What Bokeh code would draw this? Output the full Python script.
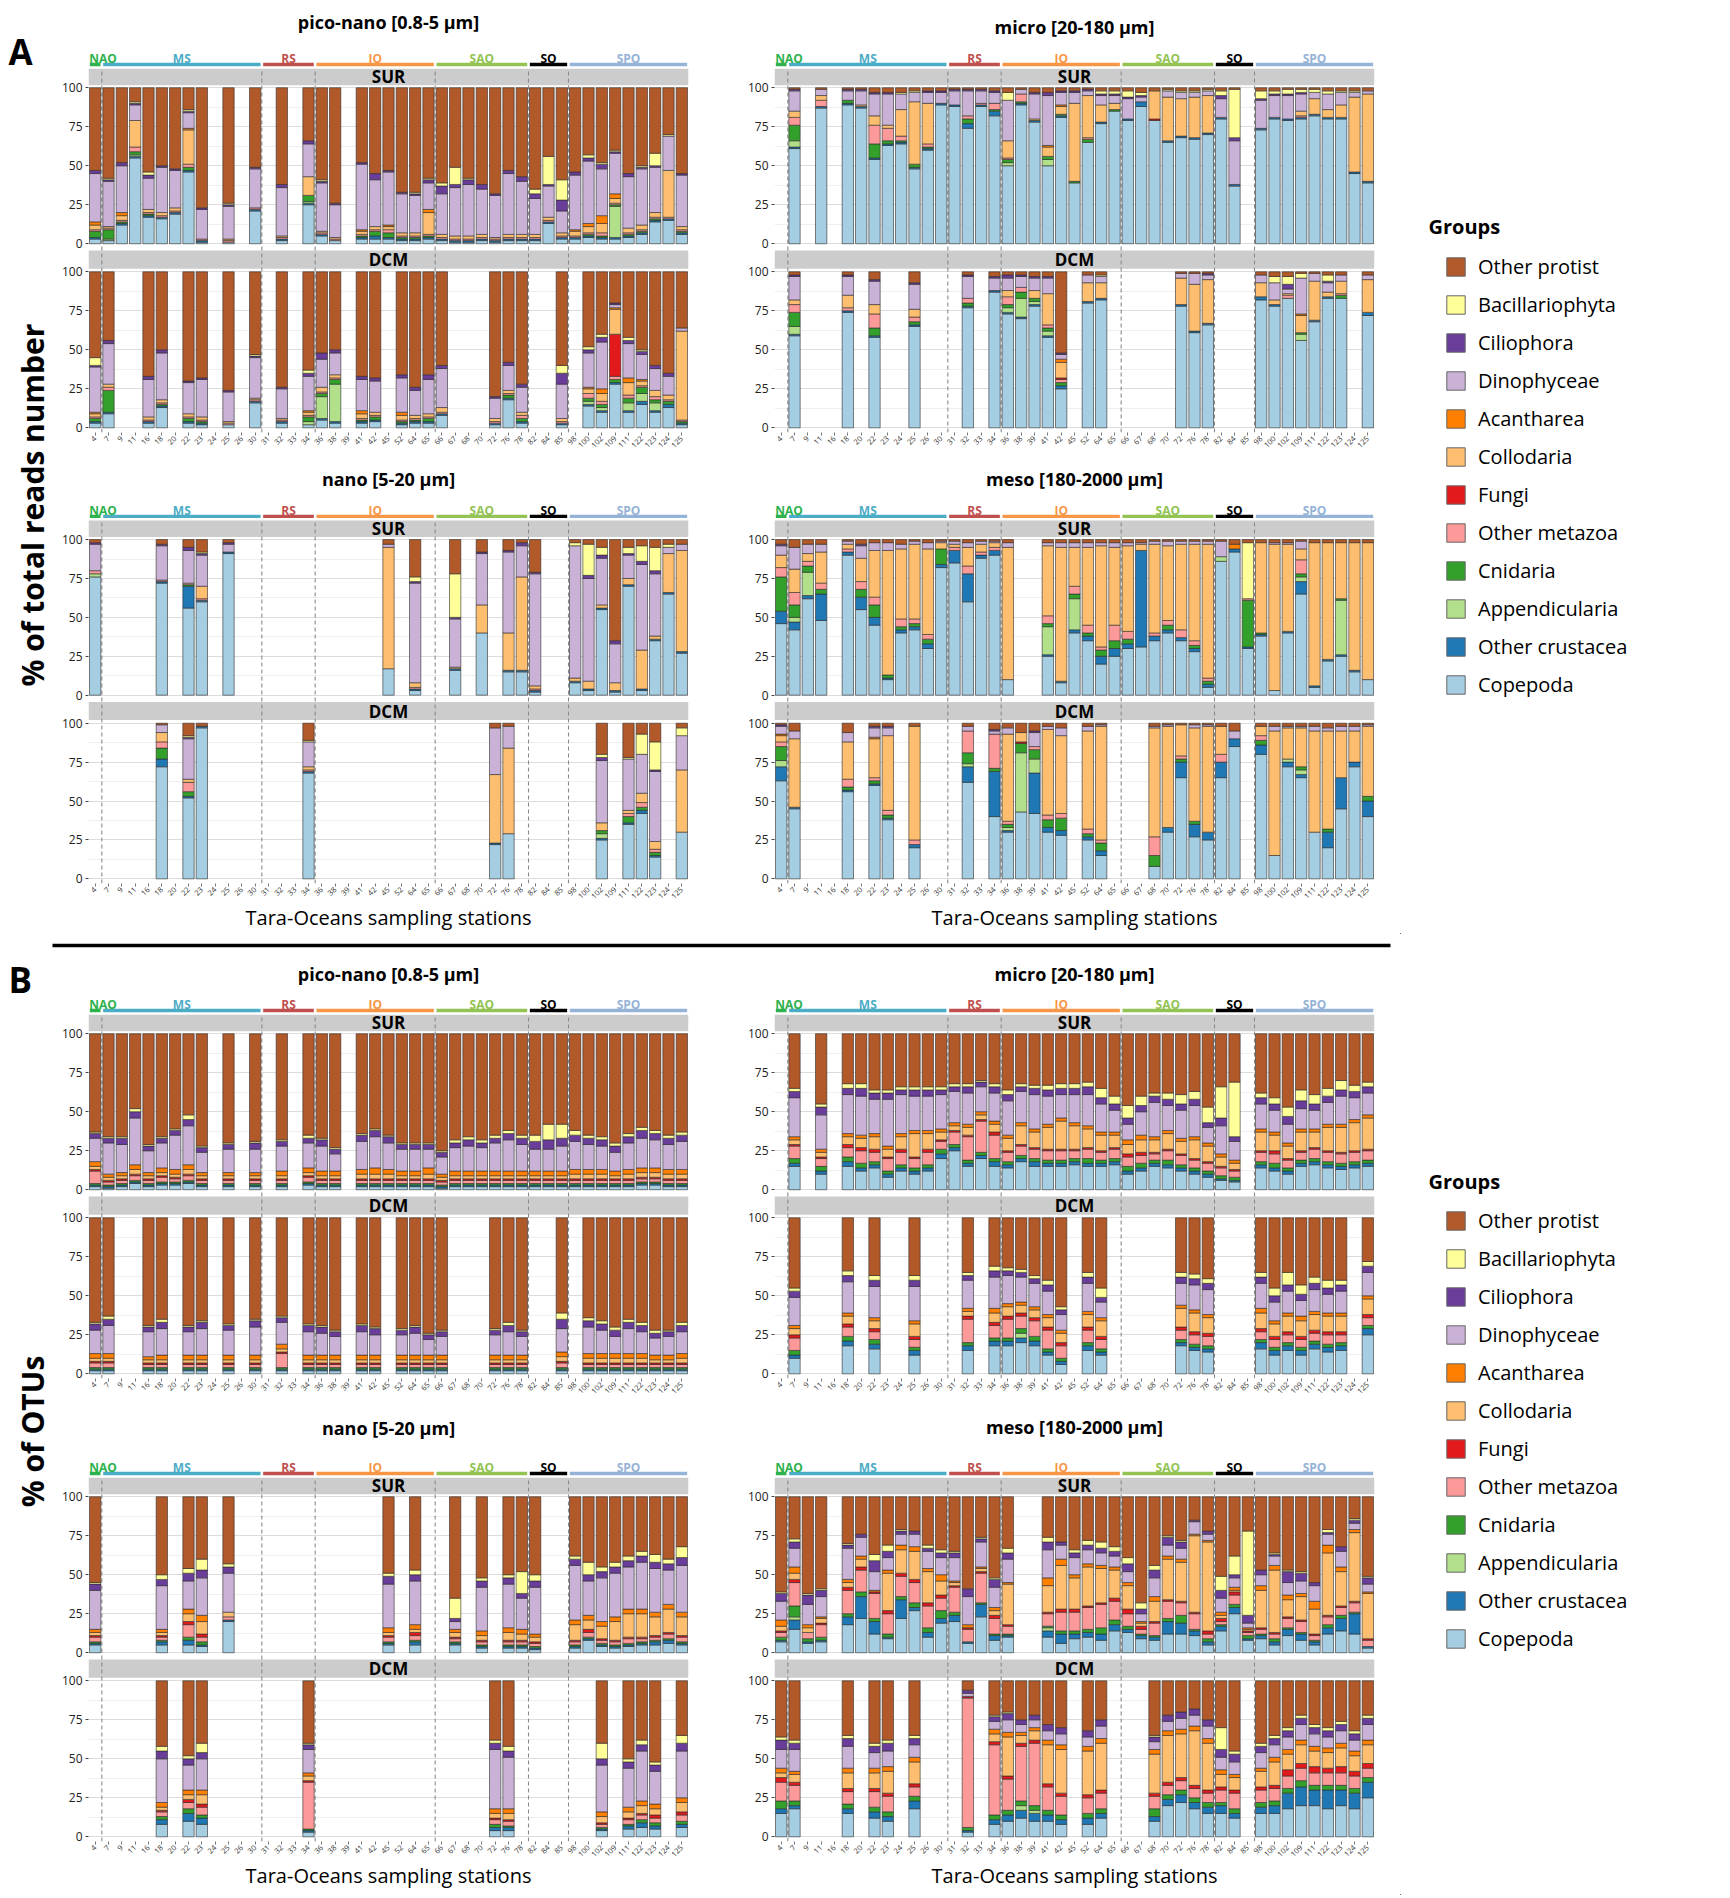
import math
from bokeh.plotting import figure
from bokeh.models import Range1d, FixedTicker, Legend, LegendItem
from bokeh.layouts import row, column
from bokeh.embed import file_html
from bokeh.resources import INLINE
from bokeh.core.properties import value

FONT = "Open Sans"

stations = ["4", "7", "9", "11", "16", "18", "20", "22", "23", "24", "25", "26", "30", "31", "32",
            "33", "34", "36", "38", "39", "41", "42", "45", "52", "64", "65", "66", "67", "68", "70",
            "72", "76", "78", "82", "84", "85", "98", "100", "102", "109", "111", "122", "123", "124", "125"]

region_names = ["NAO", "MS", "RS", "IO", "SAO", "SO", "SPO"]
region_first = ["4", "7", "31", "36", "66", "82", "98"]
region_last = ["4", "30", "34", "65", "78", "85", "125"]
region_colors = ["#2eb24e", "#4bacc6", "#c0504d", "#f79646", "#92c353", "#000000", "#95b3d7"]

# legend order (top -> bottom); stacks are drawn in the reverse order (Copepoda at the bottom)
group_names = ["Other protist", "Bacillariophyta", "Ciliophora", "Dinophyceae", "Acantharea", "Collodaria",
               "Fungi", "Other metazoa", "Cnidaria", "Appendicularia", "Other crustacea", "Copepoda"]
group_codes = ["P", "B", "I", "D", "H", "L", "F", "M", "N", "A", "X", "C"]
group_colors = ["#b15928", "#ffff99", "#6a3d9a", "#cab2d6", "#ff7f00", "#fdbf6f",
                "#e31a1c", "#fb9a99", "#33a02c", "#b2df8a", "#1f78b4", "#a6cee3"]

# ---------------- A: % of total reads number ----------------
reads_piconano_sur = {
    "4": "C3 X1 N4 M1 L3 H2 D31 I2", "7": "C2 A1 N6 M1 L1 D29 I1 B1", "9": "C12 X1 N1 M1 L3 H2 D30 I2",
    "11": "C55 X1 A1 N2 M3 L17 D10 I1 B1", "16": "C17 X1 N1 M1 L2 D20 I2 B2", "18": "C16 X1 M1 L2 D29 I1",
    "20": "C19 X1 M1 L2 D24 I1", "22": "C46 X1 N2 M2 L22 H1 D10 I1 B1", "23": "C1 X1 M1 D19 I1",
    "25": "C1 M1 L1 D21 I1 B1", "30": "C21 X1 M1 D25 I1", "32": "C2 X1 M1 L1 D31 I2",
    "34": "C25 X1 A1 N4 L12 D21 I2", "36": "C5 X1 M1 L1 D31 I1 B1", "38": "C2 M1 L1 D21 I1",
    "41": "C3 X1 N1 M1 L2 H1 D42 I1", "42": "C3 X2 N3 M1 L2 D30 I4", "45": "C3 X1 N3 M2 L2 H1 D34 I1",
    "52": "C2 X1 N1 M1 L2 D25 I1", "64": "C2 X1 N1 M1 L2 D24 I1 B1", "65": "C3 X1 N1 M1 L14 H2 D17 I2 B1",
    "66": "C2 X1 M1 L2 D26 I5 B2", "67": "C1 X1 M1 L2 D31 I2 B11", "68": "C1 X1 M1 L2 D33 I3 B1",
    "70": "C2 X1 M1 L2 D29 I3", "72": "C1 X1 M1 L1 D27 I1", "76": "C2 X1 M1 L2 D39 I2",
    "78": "C2 X1 M1 L2 D34 I3", "82": "C2 X1 M1 L2 D23 I3 B3", "84": "C13 X1 M1 L2 D20 I1 B18",
    "85": "C3 X1 M1 L2 D14 I7 B13", "98": "C3 X1 M1 L3 H1 D35 I2", "100": "C4 X1 N1 M1 L4 H2 D40 I2 B2",
    "102": "C3 X1 N1 M2 L6 H5 D30 I3 B1", "109": "C3 X1 A20 N1 M1 L3 H3 D26 I1 B1",
    "111": "C4 X1 N1 M1 L3 D33 I2", "122": "C6 X1 N1 M1 L3 D36 I1 B1", "123": "C14 X1 N1 M1 L3 D29 I1 B8",
    "124": "C15 X1 M1 L30 D22 B1", "125": "C6 X1 N1 M1 L2 D33 I1",
}
reads_piconano_dcm = {
    "4": "C3 X1 N2 M1 L2 H1 D29 I1 B5", "7": "C9 X1 N14 M2 L2 D26 I2", "16": "C3 X1 M1 L2 D24 I2",
    "18": "C13 X1 N1 M1 L2 D30 I2", "22": "C3 X1 N2 M1 L2 D20 I1", "23": "C2 X1 N1 M1 L2 D24 I1",
    "25": "C2 M1 L1 D19 I1", "30": "C16 X1 M1 L1 D26 I1 B1", "32": "C3 X1 M1 L1 D19 I1",
    "34": "C2 A2 N3 M1 L2 H1 D22 I2 B2", "36": "C5 X1 A14 N2 M1 L3 D18 I4", "38": "C3 X1 A24 N3 M1 L2 D14 I2",
    "41": "C3 X1 N1 M1 L3 H2 D20 I2", "42": "C4 X1 N2 M1 L2 D20 I2", "52": "C2 X1 N1 M1 L3 H2 D22 I2",
    "64": "C3 X1 N1 M1 L2 D16 I2", "65": "C3 X1 N2 M1 L2 D22 I3", "66": "C8 X1 M1 L3 D25 I2",
    "72": "C2 X1 M1 L2 D13 I1", "76": "C18 X1 N2 M1 L2 D16 I2", "78": "C3 X1 N2 M2 L2 D16 I2",
    "85": "C2 X1 M1 L2 D22 I7 B5", "100": "C14 X1 A2 N2 M3 L3 H1 D22 I2 B2",
    "102": "C10 X1 A2 N2 M2 L5 H3 D30 I3 B2", "109": "C28 X1 N2 M2 F27 L16 H1 D2 I1",
    "111": "C10 X1 A5 N3 M2 L8 H3 D22 I2 B2", "122": "C15 X2 A5 N4 M1 L3 H1 D16 I2 B1",
    "123": "C10 X1 A5 N2 M2 L4 D14 I2", "124": "C13 X2 N2 M1 L3 D12 I2", "125": "C2 X1 N1 M1 L57 D2",
}
reads_micro_sur = {
    "7": "C61 X1 A4 N10 M5 L4 D13 I1", "11": "C87 X1 M4 L3 D4", "18": "C89 X1 N2 D6 I1",
    "20": "C87 X1 L1 D9 I1", "22": "C54 X1 N9 M12 L6 D14 I1", "23": "C63 X1 N2 M8 L2 D20 I1",
    "24": "C64 X1 N1 M3 L17 D10 B1", "25": "C48 X1 N2 L40 D6 B1", "26": "C60 X1 N1 M2 L26 D7 I1",
    "30": "C89 X1 D7 I1", "31": "C88 X1 D9 I1", "32": "C74 X3 N3 M2 D16 I1", "33": "C88 X1 M1 D8 I1",
    "34": "C82 X3 N1 M4 D7 I1", "36": "C50 A2 N2 M1 L11 D26 B5", "38": "C89 X1 N1 M5 D3",
    "39": "C78 X1 L1 D16 I1", "41": "C50 A4 N2 L6 H1 D32 I2", "42": "C81 X1 N1 L5 H1 D8 I1",
    "45": "C39 N1 L50 D7 I1", "52": "C65 N2 M1 L27 D3 I1", "64": "C77 X1 L11 D6 I1 B2",
    "65": "C85 N1 L4 D5 I1 B2", "66": "C79 X1 D13 I1 B4", "67": "C88 X3 D3 I1 B2", "68": "C79 F1 L18",
    "70": "C65 X1 L28 D4 B1", "72": "C68 X1 L24 D4 B1", "76": "C67 X1 L26 D3 B1", "78": "C70 X1 L24 D3 B1",
    "82": "C80 X1 D12 I2 B3", "84": "C37 X1 D28 I2 B31", "98": "C73 X1 D18 I1 B5", "100": "C80 X1 D14 I1 B2",
    "102": "C79 X1 D15 I1 B3", "109": "C80 X1 M1 L3 D11 I1 B2", "111": "C82 X1 L10 D4 B2",
    "122": "C80 X1 L5 D10 B2", "123": "C80 X1 L8 D8 B1", "124": "C45 X1 L48 D3 B1", "125": "C39 X1 L56 D2",
}
reads_micro_dcm = {
    "7": "C59 X1 A5 N9 M5 L3 D15 I1", "18": "C74 X1 M2 L8 D12 I1", "22": "C58 X1 N5 M9 L6 D15 I1",
    "25": "C65 X1 N2 M3 L5 D16 I1", "32": "C77 X1 N2 M3 D14 I1", "34": "C87 X1 D8 I1",
    "36": "C73 X1 A3 N2 M5 L4 D8 I2", "38": "C70 X1 A12 N4 M3 D7 I1", "39": "C78 X1 A2 N2 L5 D8 I1",
    "41": "C58 X1 A3 N2 M2 L20 D10 I1", "42": "C25 X2 N2 M2 F1 L10 H2 D3 I1", "52": "C80 X1 L12 D5",
    "64": "C82 X1 L10 D4 B1", "72": "C78 X1 L17 D3", "76": "C61 X1 L30 D7", "78": "C66 X1 L28 D3 I1",
    "98": "C82 X2 L9 D5", "100": "C78 X1 L3 D11 B4", "102": "C83 M2 L1 D3 I3 B5",
    "109": "C56 A4 N1 L11 H1 D23 B3", "111": "C68 X1 L25 D5", "122": "C83 X1 L3 D6 I1 B4",
    "123": "C83 N2 M1 L8 D4", "125": "C72 X2 L21 D3",
}
reads_nano_sur = {
    "4": "C76 A2 M2 D17 I1", "18": "C72 X1 M1 D22 I1", "22": "C56 X14 N1 M1 D21 I2",
    "23": "C60 X1 M1 L8 D20 I1 B1", "25": "C91 X1 D5 I1", "45": "C17 L78 D2", "64": "C3 X1 M1 L3 D64 I1 B3",
    "67": "C16 X1 L1 D31 I1 B28", "70": "C40 L18 D33 I1", "76": "C15 X1 L24 D52 I1", "78": "C15 X1 L60 D20 I2",
    "82": "C2 X1 M1 L2 D72 I1", "98": "C8 X1 L2 D85 B2", "100": "C3 X1 L5 D66 I2 B20",
    "102": "C55 X1 L2 D30 I2 B5", "109": "C2 X1 L5 D25 I2", "111": "C70 X1 L4 D15 I1 B4",
    "122": "C3 X1 L25 D55 I2 B10", "123": "C35 X1 L2 D40 I2 B15", "124": "C65 X1 L25 D4 B2",
    "125": "C27 X1 L65 D4",
}
reads_nano_dcm = {
    "18": "C72 X5 N7 M4 L6 D5", "22": "C52 X1 N3 M6 L2 D26 I1 B1", "23": "C97 X1",
    "34": "C68 X1 M1 L2 D16 B1", "72": "C22 X1 L44 D30", "76": "C29 L55 D14",
    "102": "C25 X1 A3 N2 L5 D40 I2 B2", "111": "C35 X1 N4 M2 L2 D33 B1", "122": "C42 X2 N2 M3 L6 D25 B13",
    "123": "C14 X1 N2 M2 L5 D45 I1 B18", "125": "C30 L40 D22 B5",
}
reads_meso_sur = {
    "4": "C46 X8 N22 M6 L8 D6 I1", "7": "C42 X5 A3 N8 M8 L15 D14", "9": "C62 X2 A15 N4 M3 L5 D6",
    "11": "C48 X17 N3 M4 L20 D5", "18": "C90 X2 M2 L3 D2", "20": "C55 X8 N5 M5 L15 D8 I1",
    "22": "C45 X5 N8 M5 L30 D5", "23": "C10 X1 N2 L80 D5", "24": "C40 X2 N2 M5 L45 D3",
    "25": "C42 X2 N2 M3 L48 D2", "26": "C30 X3 N3 M3 L55 D4", "30": "C82 X2 N10 L4 D1",
    "31": "C85 X8 M2 L2 D2", "32": "C60 X18 M5 L12 D3", "33": "C88 X2 M2 L5 D2", "34": "C90 X3 M2 L3 D1",
    "36": "C10 L85 D3", "41": "C25 X1 A18 N2 M5 L45 D2", "42": "C8 X1 L86 D3", "45": "C40 X2 A20 N3 M5 L25 D3",
    "52": "C35 X3 N2 M5 L50 D3", "64": "C20 X5 N4 M2 L65 D2", "65": "C25 X5 N5 M10 L50 D3",
    "66": "C30 X3 N3 M5 L55 D2", "67": "C31 X62 L4 D1", "68": "C35 X3 M2 L57 D2", "70": "C40 X2 N3 M3 L48 D3",
    "72": "C35 X2 M5 L55 D2", "76": "C28 X2 N2 M3 L62 D2", "78": "C5 X2 N2 M2 L86 D2", "82": "C86 A3 D10",
    "84": "C92 X2 H3", "85": "C30 X1 N30 M1 B36", "98": "C38 X1 N1 L58", "100": "C3 L94 D1",
    "102": "C40 X1 L56 D1", "109": "C65 X8 A3 N2 M9 L7 D5", "111": "C5 X1 L92", "122": "C22 X1 L75",
    "123": "C25 X1 A35 N1 L36", "124": "C15 X1 L82", "125": "C10 L88",
}
reads_meso_dcm = {
    "4": "C63 X9 A4 N9 M3 L4 H1 D5 I1", "7": "C45 X1 L44 D5", "18": "C56 X1 N2 M5 L24 D6",
    "22": "C60 X1 N2 M2 L25 H1 D6 I1", "23": "C38 X1 N2 M3 L48 D5 I1", "25": "C20 X2 M3 L73",
    "32": "C62 X10 A2 N7 M14 D3", "34": "C40 X29 N2 M22 D2 I1", "36": "C30 X1 A2 N2 M2 L56 D4",
    "38": "C43 A38 N6 F1 L6", "39": "C42 X26 A9 N6 M2 D9 I1", "41": "C30 X3 N5 M3 L55 D2",
    "42": "C28 X3 N8 M3 L50 D5", "52": "C25 X2 N2 M3 L63 D3", "64": "C15 X3 N5 M2 L73 D1",
    "68": "C8 N7 M12 L70 D1", "70": "C30 X3 L65 D1", "72": "C65 X10 N2 M2 L20", "76": "C27 X8 N2 L60 D2",
    "78": "C25 X5 L68 D1", "82": "C65 X10 M5 L18", "84": "C85 X5 D5", "98": "C80 X6 N3 M3 L6",
    "100": "C15 L80 D3", "102": "C72 X3 A2 L20 D1", "109": "C65 X2 A3 N2 L25 D1", "111": "C30 L65 D3",
    "122": "C20 X10 N2 L63 D2", "123": "C45 X20 L30 D3", "124": "C72 X3 L20 D3", "125": "C40 X10 N3 L45 D1",
}

# ---------------- B: % of OTUs ----------------
otus_piconano_sur = {
    "4": "C2 X1 N1 M8 F1 L2 H3 D15 I3 B1", "7": "C1 X1 N1 M2 F1 L2 H2 D20 I3 B1",
    "9": "C2 X1 N1 M2 F1 L2 H2 D18 I4 B1", "11": "C4 X1 N1 M3 F1 L3 H3 D30 I4 B2",
    "16": "C2 X1 N1 M2 F1 L2 H2 D14 I3 B1", "18": "C3 X1 N1 M3 F1 L2 H3 D16 I3 B1",
    "20": "C3 X1 N1 M2 F1 L2 H3 D22 I3 B1", "22": "C4 X1 N1 M3 F1 L3 H3 D25 I4 B3",
    "23": "C2 X1 N1 M2 F1 L2 H2 D13 I3 B1", "25": "C2 X1 N1 M2 F1 L2 H2 D15 I3 B1",
    "30": "C2 X1 N1 M2 F1 L2 H2 D15 I4 B1", "32": "C2 X1 N1 M2 F1 L2 H3 D16 I3 B1",
    "34": "C3 X1 N1 M3 F1 L2 H3 D16 I3 B2", "36": "C2 X1 N1 M2 F1 L2 H3 D16 I4 B1",
    "38": "C2 X1 N1 M2 F1 L2 H3 D11 I3 B1", "41": "C2 X1 N1 M2 F1 L3 H3 D18 I4 B1",
    "42": "C2 X1 N1 M2 F1 L3 H4 D20 I4 B1", "45": "C2 X1 N1 M2 F1 L3 H3 D17 I4 B1",
    "52": "C2 X1 N1 M2 F1 L2 H3 D14 I3 B1", "64": "C2 X1 N1 M2 F1 L2 H3 D14 I3 B1",
    "65": "C2 X1 N1 M2 F1 L3 H4 D12 I3 B1", "66": "C1 X1 N1 M2 F1 L2 H2 D11 I3 B1",
    "67": "C2 X1 N1 M2 F1 L2 H3 D15 I3 B2", "68": "C2 X1 N1 M2 F1 L2 H3 D16 I4 B2",
    "70": "C2 X1 N1 M2 F1 L2 H3 D15 I3 B2", "72": "C2 X1 N1 M2 F1 L2 H3 D18 I3 B2",
    "76": "C2 X1 N1 M2 F1 L2 H3 D20 I4 B2", "78": "C2 X1 N1 M2 F1 L2 H3 D17 I4 B2",
    "82": "C2 X1 N1 M2 F1 L2 H3 D14 I5 B4", "84": "C2 X1 N1 M2 F1 L2 H3 D14 I6 B10",
    "85": "C2 X1 N1 M2 F1 L2 H3 D16 I5 B9", "98": "C2 X1 N1 M2 F1 L3 H3 D18 I4 B3",
    "100": "C2 X1 N1 M2 F1 L3 H3 D16 I4 B2", "102": "C2 X1 N1 M2 F1 L3 H3 D15 I4 B2",
    "109": "C2 X1 N1 M2 F1 L2 H3 D12 I4 B2", "111": "C2 X1 N1 M2 F1 L3 H3 D17 I4 B2",
    "122": "C3 X1 N1 M2 F1 L3 H3 D19 I5 B2", "123": "C3 X1 N1 M2 F1 L3 H3 D18 I4 B2",
    "124": "C2 X1 N1 M2 F1 L3 H3 D16 I4 B2", "125": "C2 X1 N1 M2 F1 L3 H3 D18 I4 B2",
}
otus_piconano_dcm = {
    "4": "C2 X1 N1 M3 F1 L2 H3 D15 I4 B1", "7": "C2 X1 N1 M3 F1 L2 H3 D18 I4 B2",
    "16": "C2 X1 N1 M2 F1 L2 H2 D16 I3 B1", "18": "C2 X1 N1 M2 F1 L2 H3 D17 I4 B2",
    "22": "C2 X1 N1 M2 F1 L2 H3 D15 I3 B1", "23": "C2 X1 N1 M2 F1 L2 H3 D17 I4 B1",
    "25": "C2 X1 N1 M2 F1 L2 H3 D16 I3 B1", "30": "C2 X1 N1 M2 F1 L2 H3 D18 I4 B1",
    "32": "C2 X1 N1 M9 F1 L2 H3 D14 I3 B1", "34": "C2 X1 N1 M2 F1 L2 H3 D15 I4 B1",
    "36": "C2 X1 N1 M2 F1 L2 H3 D14 I4 B1", "38": "C2 X1 N1 M2 F1 L2 H3 D12 I3 B1",
    "41": "C2 X1 N1 M2 F1 L2 H3 D15 I4 B1", "42": "C2 X1 N1 M2 F1 L2 H3 D13 I4 B1",
    "52": "C2 X1 N1 M2 F1 L2 H3 D13 I3 B1", "64": "C2 X1 N1 M2 F1 L2 H3 D14 I4 B1",
    "65": "C2 X1 N1 M2 F1 L2 H3 D10 I3 B1", "66": "C2 X1 N1 M2 F1 L2 H3 D12 I3 B1",
    "72": "C2 X1 N1 M2 F1 L2 H3 D13 I3 B1", "76": "C2 X1 N1 M2 F1 L2 H3 D15 I4 B2",
    "78": "C2 X1 N1 M2 F1 L2 H3 D12 I3 B1", "85": "C2 X1 N1 M3 F1 L3 H3 D15 I6 B4",
    "100": "C2 X1 N1 M2 F1 L3 H3 D17 I4 B2", "102": "C2 X1 N1 M2 F1 L3 H3 D15 I4 B2",
    "109": "C2 X1 N1 M2 F1 L3 H3 D11 I4 B2", "111": "C2 X1 N1 M2 F1 L3 H3 D16 I4 B2",
    "122": "C2 X1 N1 M2 F1 L3 H3 D14 I4 B2", "123": "C2 X1 N1 M2 F1 L2 H3 D11 I3 B2",
    "124": "C2 X1 N1 M2 F1 L2 H3 D12 I3 B1", "125": "C2 X1 N1 M2 F1 L3 H3 D14 I4 B2",
}
otus_micro_sur = {
    "7": "C15 X2 N3 M8 F1 L3 H2 D25 I4 B2", "11": "C10 X2 N3 M5 F1 L3 H2 D22 I5 B2",
    "18": "C15 X3 N3 M6 F2 L5 H2 D25 I4 B3", "20": "C12 X2 N3 M8 F2 L6 H2 D25 I5 B3",
    "22": "C14 X2 N2 M6 F2 L8 H2 D22 I4 B2", "23": "C8 X2 N2 M8 F1 L5 H2 D30 I4 B2",
    "24": "C12 X2 N2 M8 F2 L8 H2 D25 I3 B2", "25": "C10 X2 N2 M6 F1 L15 H2 D22 I4 B2",
    "26": "C12 X2 N2 M8 F2 L10 H2 D22 I4 B2", "30": "C20 X3 N3 M5 F1 L5 H2 D22 I3 B2",
    "31": "C25 X2 N2 M8 F1 L3 H2 D20 I3 B2", "32": "C15 X2 N2 M15 F1 L5 H2 D20 I4 B2",
    "33": "C20 X2 N2 M20 F1 L3 H2 D16 I3 B1", "34": "C15 X3 N2 M15 F2 L5 H2 D18 I4 B2",
    "36": "C14 X2 N2 M6 F1 L8 H2 D22 I4 B3", "38": "C18 X2 N2 M6 F1 L12 H2 D20 I3 B2",
    "39": "C15 X3 N2 M6 F1 L10 H2 D22 I4 B2", "41": "C15 X2 N2 M6 F1 L14 H2 D18 I4 B3",
    "42": "C15 X2 N2 M6 F1 L18 H2 D15 I4 B3", "45": "C16 X2 N2 M5 F1 L15 H2 D18 I4 B3",
    "52": "C15 X2 N3 M6 F1 L12 H2 D20 I5 B3", "64": "C15 X2 N2 M5 F1 L10 H2 D18 I4 B6",
    "65": "C16 X2 N2 M6 F1 L8 H2 D14 I4 B5", "66": "C10 X2 N3 M6 F2 L6 H3 D10 I4 B8",
    "67": "C12 X2 N3 M5 F2 L8 H3 D15 I4 B6", "68": "C15 X2 N2 M4 F1 L8 H2 D22 I4 B2",
    "70": "C14 X2 N3 M6 F1 L10 H2 D16 I4 B4", "72": "C12 X2 N2 M6 F1 L8 H2 D18 I4 B6",
    "76": "C10 X2 N2 M5 F1 L12 H2 D20 I4 B5", "78": "C8 X2 N2 M5 F1 L10 H2 D10 I3 B10",
    "82": "C6 X1 N2 M5 F1 L6 H2 D18 I5 B20", "84": "C5 X1 N2 M4 F1 L4 H2 D12 I3 B35",
    "98": "C14 X2 N2 M6 F1 L12 H2 D16 I4 B3", "100": "C12 X2 N3 M6 F2 L10 H2 D14 I4 B4",
    "102": "C10 X2 N2 M5 F1 L8 H2 D12 I5 B6", "109": "C15 X2 N2 M5 F1 L12 H2 D13 I5 B7",
    "111": "C16 X2 N2 M6 F1 L10 H2 D12 I4 B6", "122": "C14 X2 N2 M6 F1 L15 H2 D14 I4 B5",
    "123": "C13 X2 N2 M6 F1 L16 H2 D18 I4 B6", "124": "C14 X2 N2 M6 F1 L18 H2 D14 I4 B4",
    "125": "C15 X2 N2 M6 F1 L20 H2 D14 I4 B3",
}
otus_micro_dcm = {
    "7": "C10 X2 N3 M8 F2 L4 H2 D18 I4 B2", "18": "C18 X3 N3 M6 F2 L5 H2 D20 I4 B3",
    "22": "C16 X3 N3 M5 F2 L5 H2 D20 I4 B3", "25": "C12 X3 N2 M5 F2 L8 H2 D22 I4 B3",
    "32": "C15 X3 N2 M15 F2 L3 H2 D18 I3 B2", "34": "C18 X3 N2 M8 F2 L6 H3 D20 I4 B3",
    "36": "C18 X3 N2 M12 F2 L6 H2 D18 I3 B2", "38": "C20 X3 A3 N3 M8 F2 L5 H2 D16 I3 B2",
    "39": "C18 X3 N3 M10 F2 L5 H2 D15 I3 B2", "41": "C12 X2 N2 M12 F2 L6 H2 D15 I4 B3",
    "42": "C6 X2 N2 M8 F2 L6 H2 D10 I3 B2", "52": "C15 X3 N2 M8 F2 L8 H2 D18 I4 B3",
    "64": "C12 X2 N2 M6 F2 L10 H2 D10 I3 B6", "72": "C18 X2 N2 M6 F2 L12 H2 D14 I4 B3",
    "76": "C15 X2 N2 M6 F2 L12 H2 D16 I4 B3", "78": "C14 X2 N2 M6 F2 L10 H2 D16 I4 B3",
    "98": "C16 X4 N2 M5 F2 L10 H3 D16 I4 B3", "100": "C12 X3 N2 M5 F2 L8 H2 D12 I4 B5",
    "102": "C15 X3 N2 M5 F2 L10 H2 D14 I4 B8", "109": "C12 X3 N2 M5 F2 L10 H3 D10 I4 B6",
    "111": "C16 X3 N2 M5 F2 L10 H2 D14 I4 B4", "122": "C14 X3 N2 M6 F2 L10 H2 D12 I4 B5",
    "123": "C15 X3 N2 M5 F2 L10 H2 D14 I4 B3", "125": "C25 X4 N2 M5 F2 L10 H2 D15 I4 B3",
}
otus_nano_sur = {
    "4": "C5 X1 N1 M3 F1 L2 H2 D25 I4 B1", "18": "C5 X2 N1 M2 F1 L2 H2 D28 I4 B3",
    "22": "C5 X3 N2 M8 F2 L5 H3 D18 I5 B3", "23": "C4 X1 N2 M3 F2 L8 H4 D24 I5 B7",
    "25": "C20 X1 M2 L3 D25 I4 B2", "45": "C5 X1 N1 M3 F1 L2 H3 D28 I5 B2",
    "64": "C5 X2 N1 M3 F2 L2 H3 D28 I4 B3", "67": "C5 X1 N1 M2 F1 L3 H2 D5 I2 B13",
    "70": "C3 X1 N1 M2 F1 L3 H3 D28 I4 B2", "76": "C3 X1 N1 M2 F1 L5 H3 D28 I4 B2",
    "78": "C3 X1 N1 M2 F1 L4 H3 D20 I3 B14", "82": "C2 X1 N1 M2 F1 L3 H2 D30 I4 B4",
    "98": "C3 X1 N1 M2 F1 L10 H3 D35 I4 B2", "100": "C8 X1 N1 M3 F2 L6 H3 D22 I4 B8",
    "102": "C4 X1 N1 M2 F1 L8 H3 D28 I4 B3", "109": "C3 X1 N1 M2 F1 L12 H3 D28 I4 B3",
    "111": "C4 X1 N1 M3 F1 L15 H3 D27 I4 B3", "122": "C5 X1 N1 M2 F1 L15 H3 D30 I4 B3",
    "123": "C5 X2 N1 M2 F1 L12 H3 D28 I4 B5", "124": "C6 X2 N1 M3 F1 L15 H3 D22 I4 B3",
    "125": "C5 X1 N1 M3 F1 L12 H3 D30 I5 B7",
}
otus_nano_dcm = {
    "18": "C8 X3 N2 M3 F1 L2 H3 D28 I5 B3", "22": "C10 X5 N3 M4 F2 L3 H3 D16 I4 B2",
    "23": "C8 X4 N2 M5 F2 L6 H3 D20 I4 B6", "34": "C3 X1 N1 M30 F1 L3 H2 D15 I3 B1",
    "72": "C4 X2 N2 M3 F1 L3 H3 D38 I4 B2", "76": "C4 X2 N1 M3 F1 L4 H3 D33 I4 B3",
    "102": "C4 X1 N1 M2 F1 L4 H3 D30 I4 B10", "111": "C5 X2 N1 M3 F1 L4 H3 D25 I4 B2",
    "122": "C6 X3 N2 M3 F1 L5 H3 D32 I4 B3", "123": "C5 X2 N2 M3 F2 L4 H3 D21 I4 B2",
    "125": "C6 X2 N2 M4 F2 L6 H3 D30 I5 B5",
}
otus_meso_sur = {
    "4": "C7 X1 N2 M3 F1 L3 H4 D12 I5 B1", "7": "C15 X6 A2 N7 M15 F2 L4 H4 D12 I4 B2",
    "9": "C6 X1 N2 M4 L3 H2 D13 I6 B1", "11": "C7 X1 N2 M8 F1 L3 H1 D13 I4 B1",
    "18": "C18 X5 N2 M15 F2 L3 H2 D20 I2 B1", "20": "C22 X14 N3 M14 F2 L5 H2 D12 I2",
    "22": "C12 X8 N2 M16 F1 H1 D12 I7 B4", "23": "C9 X1 N2 M13 F2 L24 H2 D8 I4 B4",
    "24": "C22 X12 N2 M13 F2 L15 H3 D7 I2 B1", "25": "C27 X2 N3 M13 F2 L18 H3 D8 I2",
    "26": "C10 X3 N3 M14 F2 L20 H2 D11 I2 B2", "30": "C19 X3 N5 M8 F2 L9 H4 D11 I3 B2",
    "31": "C20 X4 N2 M16 F1 L2 H1 D15 I3 B1", "32": "C6 X1 M8 F1 H2 D18 I5",
    "33": "C23 X8 N1 M19 F1 L2 H1 D16 I2 B1", "34": "C8 X3 N1 M10 F2 L3 H2 D13 I5 B1",
    "36": "C10 X1 N1 M5 F1 L26 H1 D15 I4 B3", "41": "C10 X4 A2 N1 M8 F1 L17 H5 D18 I5 B3",
    "42": "C6 X6 N2 M12 F2 L28 H4 D9 I2", "45": "C9 X3 N2 M12 F2 L20 H2 D11 I3 B2",
    "52": "C10 X3 N2 M14 F1 L25 H2 D9 I3 B3", "64": "C8 X4 N4 M15 F1 L22 H2 D8 I3 B4",
    "65": "C14 X4 N3 M12 F2 L18 H2 D7 I3 B3", "66": "C13 X2 N2 M8 F3 L15 H2 D7 I5 B4",
    "67": "C9 X2 N1 M3 F2 L2 H1 D5 I3 B4", "68": "C8 X2 N1 M8 F1 L13 H3 D12 I5 B3",
    "70": "C12 X8 N2 M11 F1 L26 H2 D7 I5 B1", "72": "C12 X7 N5 M8 F1 L25 H2 D7 I4 B1",
    "76": "C11 X3 N1 M10 F1 L49 H1 D8 I1", "78": "C5 X2 N2 M3 F2 L57 H1 D4 I2",
    "82": "C14 X3 N1 M2 F2 L2 H2 D9 I5 B9", "84": "C25 X4 N2 M6 F2 L1 H2 D6 I2 B12",
    "85": "C8 X1 N2 M2 F1 L1 H1 D3 I5 B54", "98": "C9 X2 N1 M3 F1 L24 H3 D7 I3",
    "100": "C5 X2 N2 M3 F1 L40 H3 D6 I1 B1", "102": "C11 X4 N1 M6 F1 L11 H3 D8 I7 B1",
    "109": "C8 X4 N1 M7 F1 L15 H2 D8 I5 B1", "111": "C5 X2 N1 M3 F1 L16 H5 D10 I2",
    "122": "C12 X4 N2 M5 F1 L40 H5 D7 I1 B2", "123": "C14 X8 N2 M5 F1 L22 H3 D10 I3",
    "124": "C12 X13 N1 M6 F1 L44 H2 D4 I2 B1", "125": "C3 X1 M4 F1 L29 H1 D5 I4 B1",
}
otus_meso_dcm = {
    "4": "C15 X3 N5 M12 F3 L3 H3 D12 I6 B2", "7": "C18 X2 N3 M10 F2 L5 H2 D14 I4 B2",
    "18": "C15 X3 N3 M8 F2 L10 H3 D14 I5 B2", "22": "C12 X4 N3 M10 F2 L10 H3 D10 I4 B2",
    "23": "C10 X3 N3 M10 F2 L14 H3 D10 I5 B2", "25": "C18 X5 N3 M6 F2 L14 H3 D8 I4 B2",
    "32": "C3 X1 N2 M83 F1 D2 I2", "34": "C8 X3 N3 M45 F2 L5 H3 D5 I3 B1",
    "36": "C10 X4 N3 M20 F2 L25 H3 D8 I4 B1", "38": "C12 X5 A3 N3 M35 F2 L5 H2 D5 I3",
    "39": "C10 X5 A2 N3 M40 F2 L6 H2 D5 I3", "41": "C10 X4 N3 M15 F2 L25 H3 D6 I4",
    "42": "C8 X3 N3 M12 F2 L28 H3 D7 I4", "52": "C8 X4 N3 M10 F2 L28 H3 D6 I4",
    "64": "C12 X3 N3 M10 F2 L30 H3 D8 I4", "68": "C10 X3 N5 M8 F2 L25 H3 D5 I3 B1",
    "70": "C20 X4 N3 M6 F2 L30 H3 D6 I4", "72": "C22 X5 N3 M6 F2 L28 H3 D7 I4",
    "76": "C18 X4 N3 M6 F2 L35 H3 D7 I4", "78": "C15 X4 N3 M6 F2 L30 H3 D8 I4",
    "82": "C15 X5 N2 M8 F2 L8 H3 D8 I5 B14", "84": "C12 X3 N3 M10 F2 L8 H2 D8 I5 B2",
    "98": "C15 X4 N3 M8 F2 L10 H2 D10 I4 B2", "100": "C15 X5 N3 M8 F2 L15 H3 D8 I4 B2",
    "102": "C18 X10 N3 M8 F4 L10 H3 D8 I4 B2", "109": "C20 X12 N4 M8 F3 L12 H3 D10 I4 B2",
    "111": "C20 X10 N3 M8 F4 L10 H3 D8 I4 B2", "122": "C18 X12 N3 M8 F3 L10 H3 D7 I4 B2",
    "123": "C20 X10 N3 M8 F4 L12 H3 D8 I4 B2", "124": "C18 X10 N3 M8 F3 L10 H3 D7 I4 B2",
    "125": "C25 X10 N3 M6 F3 L12 H3 D10 I4 B2",
}

# ---------------- helpers ----------------
STACK = list(reversed(group_codes))          # bottom -> top
COLOR = dict(zip(group_codes, group_colors))
IDX = {s: i for i, s in enumerate(stations)}
N = len(stations)
PX_PER_UNIT = 1.56
SUR_BASE = 118                                # SUR block sits above the DCM block


def parse(entry):
    vals = {c: 0.0 for c in STACK}
    for tok in entry.split():
        vals[tok[0]] += float(tok[1:])
    s = sum(vals.values())
    if s > 100:
        for c in vals:
            vals[c] *= 100.0 / s
        s = 100.0
    vals["P"] = 100.0 - s
    return vals


def draw_stack(p, data, base):
    rows = [(IDX[s], parse(v)) for s, v in data.items()]
    level = {i: float(base) for i, _ in rows}
    for code in STACK:
        xs, bs, ts = [], [], []
        for i, v in rows:
            h = v[code]
            if h > 0:
                xs.append(i)
                bs.append(level[i])
                ts.append(level[i] + h)
                level[i] += h
        if xs:
            p.vbar(x=xs, bottom=bs, top=ts, width=0.85, fill_color=COLOR[code],
                   line_color="#2b2b2b", line_width=0.6)


def panel(title, sur, dcm, left, top_b, frame_h, bot_b, title_u, xlabel=None):
    width = 686 if left else 656
    y_end = frame_h / PX_PER_UNIT - 3
    p = figure(width=width, height=top_b + frame_h + bot_b,
               x_range=Range1d(-0.5, N - 0.5), y_range=Range1d(-3, y_end),
               toolbar_location=None, output_backend="svg", title=None,
               min_border_left=30, min_border_right=(56 if left else 26),
               min_border_top=top_b, min_border_bottom=bot_b)
    p.outline_line_color = None
    p.background_fill_color = "white"

    yt_major = [0, 25, 50, 75, 100] + [SUR_BASE + v for v in (0, 25, 50, 75, 100)]
    yt_minor = [12.5, 37.5, 62.5, 87.5] + [SUR_BASE + v for v in (12.5, 37.5, 62.5, 87.5)]
    yticker = FixedTicker(ticks=yt_major, minor_ticks=yt_minor)
    p.yaxis[0].ticker = yticker
    p.ygrid[0].ticker = yticker
    p.yaxis.major_label_overrides = {SUR_BASE + v: str(v) for v in (0, 25, 50, 75, 100)}
    p.yaxis.axis_line_color = None
    p.yaxis.minor_tick_line_color = None
    p.yaxis.major_tick_out = 3
    p.yaxis.major_tick_in = 0
    p.yaxis.major_tick_line_color = "#444444"
    p.yaxis.major_label_standoff = 2
    p.yaxis.major_label_text_font = FONT
    p.yaxis.major_label_text_font_size = "12px"
    p.yaxis.major_label_text_color = "#222222"

    xticker = FixedTicker(ticks=list(range(N)), minor_ticks=[])
    p.xaxis[0].ticker = xticker
    p.xaxis.major_label_overrides = {i: s for i, s in enumerate(stations)}
    p.xaxis.major_label_orientation = math.pi / 4
    p.xaxis.axis_line_color = None
    p.xaxis.minor_tick_line_color = None
    p.xaxis.major_tick_out = 3
    p.xaxis.major_tick_in = 0
    p.xaxis.major_tick_line_color = "#777777"
    p.xaxis.major_label_standoff = 2
    p.xaxis.major_label_text_font = FONT
    p.xaxis.major_label_text_font_size = "7.5px"
    p.xaxis.major_label_text_color = "#333333"
    if xlabel:
        p.xaxis.axis_label = xlabel
        p.xaxis.axis_label_text_font = FONT
        p.xaxis.axis_label_text_font_size = "20px"
        p.xaxis.axis_label_text_font_style = "normal"
        p.xaxis.axis_label_text_color = "black"
        p.xaxis.axis_label_standoff = 0

    p.xgrid.visible = False
    p.ygrid.grid_line_color = "#dcdcdc"
    p.ygrid.minor_grid_line_color = "#efefef"

    # facet strips
    for bottom, top, lab in ((SUR_BASE + 101.6, SUR_BASE + 112.2, "SUR"), (102.0, 113.6, "DCM")):
        p.quad(left=[-0.5], right=[N - 0.5], bottom=[bottom], top=[top],
               fill_color="#cccccc", line_color=None)
        p.text(x=[(N - 1) / 2], y=[(bottom + top) / 2], text=[lab], text_font=value(FONT),
               text_font_size="17px", text_font_style="bold", text_align="center",
               text_baseline="middle", text_color="black")

    # ocean region bars
    i0 = [IDX[s] for s in region_first]
    i1 = [IDX[s] for s in region_last]
    p.quad(left=[a - 0.4 for a in i0], right=[b + 0.4 for b in i1],
           bottom=[SUR_BASE + 113.8] * len(i0), top=[SUR_BASE + 116.0] * len(i0),
           fill_color=region_colors, line_color=None)
    lx = [(a + b) / 2 for a, b in zip(i0, i1)]
    aligns = ["center"] * len(i0)
    lx[0] = i0[0] - 0.45          # first (single-station) label starts at the panel edge
    aligns[0] = "left"
    p.text(x=lx, y=[SUR_BASE + 118.8] * len(i0), text=region_names, text_align=aligns,
           text_color=region_colors, text_font=value(FONT), text_font_size="12px",
           text_font_style="bold", text_baseline="alphabetic")

    # dashed separators between regions
    xs = [IDX[s] - 0.5 for s in region_first[1:]]
    p.segment(x0=xs, x1=xs, y0=[-3] * len(xs), y1=[SUR_BASE + 112.2] * len(xs),
              line_color="#8a8a8a", line_dash="4 3", line_width=1.1)

    draw_stack(p, sur, SUR_BASE)
    draw_stack(p, dcm, 0)

    p.text(x=[(N - 1) / 2], y=[title_u], text=[title], text_font=value(FONT), text_font_size="18px",
           text_font_style="bold", text_align="center", text_baseline="middle", text_color="black")
    return p


def side_label(letter, ytitle, height, letter_center, title_center):
    p = figure(width=58, height=height, x_range=Range1d(0, 58), y_range=Range1d(0, height),
               x_axis_location=None, y_axis_location=None, toolbar_location=None,
               output_backend="svg", min_border=0, title=None)
    p.outline_line_color = None
    p.grid.visible = False
    p.text(x=[8], y=[height - letter_center], text=[letter], text_font=value(FONT), text_font_size="35px",
           text_font_style="bold", text_align="left", text_baseline="middle", text_color="black")
    p.text(x=[32], y=[height - title_center], text=[ytitle], angle=math.pi / 2, text_font=value(FONT),
           text_font_size="30px", text_font_style="bold", text_align="center", text_baseline="middle",
           text_color="black")
    return p


def legend_fig(height, groups_center, legend_bottom):
    p = figure(width=320, height=height, x_range=Range1d(0, 320), y_range=Range1d(0, height),
               x_axis_location=None, y_axis_location=None, toolbar_location=None,
               output_backend="svg", min_border=0, title=None)
    p.outline_line_color = None
    p.grid.visible = False
    items = []
    for name, col in zip(group_names, group_colors):
        r = p.vbar(x=[-100], top=[1], width=1, fill_color=col, line_color="#666666")
        items.append(LegendItem(label=name, renderers=[r]))
    leg = Legend(items=items, location=(44, legend_bottom), margin=0, padding=0, spacing=11,
                 glyph_width=23, glyph_height=23, label_height=27, label_standoff=11,
                 label_text_font=FONT, label_text_font_size="20px", label_text_color="black",
                 border_line_color=None, background_fill_alpha=0)
    p.add_layout(leg)
    p.text(x=[28], y=[height - groups_center], text=["Groups"], text_font=value(FONT),
           text_font_size="20px", text_font_style="bold", text_align="left", text_baseline="middle",
           text_color="black")
    return p


XLAB = "Tara-Oceans sampling stations"

a1 = panel("pico-nano [0.8-5 µm]", reads_piconano_sur, reads_piconano_dcm, True, 10, 422, 26, 260)
a2 = panel("micro [20-180 µm]", reads_micro_sur, reads_micro_dcm, False, 10, 422, 26, 257)
a3 = panel("nano [5-20 µm]", reads_nano_sur, reads_nano_dcm, True, 3, 423, 50, 257, XLAB)
a4 = panel("meso [180-2000 µm]", reads_meso_sur, reads_meso_dcm, False, 3, 423, 50, 257, XLAB)

b1 = panel("pico-nano [0.8-5 µm]", otus_piconano_sur, otus_piconano_dcm, True, 6, 422, 26, 256)
b2 = panel("micro [20-180 µm]", otus_micro_sur, otus_micro_dcm, False, 6, 422, 26, 256)
b3 = panel("nano [5-20 µm]", otus_nano_sur, otus_nano_dcm, True, 0, 437, 54, 262, XLAB)
b4 = panel("meso [180-2000 µm]", otus_meso_sur, otus_meso_dcm, False, 0, 437, 54, 263, XLAB)

hA = 458 + 476
hB = 454 + 491
leftA = side_label("A", "% of total reads number", hA, 50.5, 504.6)
leftB = side_label("B", "% of OTUs", hB, 28.5, 481)
legA = legend_fig(hA, 226, 236)
legB = legend_fig(hB, 231, 243)

sep = figure(width=1720, height=16, x_range=Range1d(0, 1720), y_range=Range1d(0, 16),
             x_axis_location=None, y_axis_location=None, toolbar_location=None,
             output_backend="svg", min_border=0, title=None)
sep.outline_line_color = None
sep.grid.visible = False
sep.segment(x0=[52], y0=[5], x1=[1390], y1=[5], line_color="black", line_width=3.5)

layout = column(
    row(leftA, column(row(a1, a2), row(a3, a4)), legA),
    sep,
    row(leftB, column(row(b1, b2), row(b3, b4)), legB),
)

open("out.html", "w").write(file_html(layout, INLINE))
